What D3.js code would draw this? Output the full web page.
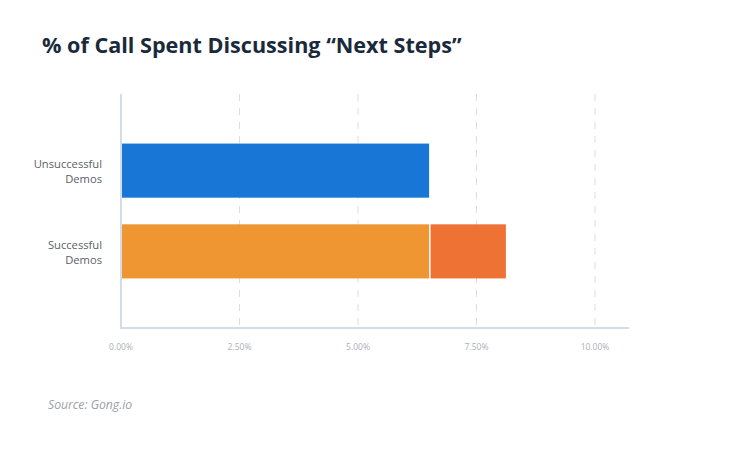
<!DOCTYPE html>
<html><head><meta charset="utf-8">
<script src="https://cdn.jsdelivr.net/npm/d3@7"></script>
<style>body{margin:0;background:#fff}svg{display:block}</style>
</head><body>
<script>
const categories = ["Unsuccessful\nDemos", "Successful\nDemos"];
const baseValues = [6.5, 6.5];
const extraValues = [0, 1.62];
const ticks = [0, 2.5, 5, 7.5, 10];
const tickLabels = ["0.00%", "2.50%", "5.00%", "7.50%", "10.00%"];

(function () {
const W = 730, H = 453;
const svg = d3.select("body").append("svg").attr("width", W).attr("height", H);
const font = "'Open Sans', sans-serif";

svg.append("text").attr("x", 42).attr("y", 53)
  .attr("font-family", font).attr("font-weight", 700).attr("font-size", 21.6)
  .attr("fill", "#1b2a3b").text("% of Call Spent Discussing \u201cNext Steps\u201d");

const x = d3.scaleLinear().domain([0, 10]).range([121, 595]);
const y = d3.scaleBand().domain(categories).range([130.25, 291.75]).paddingInner(0.33).paddingOuter(0.165);
const plotTop = 94, plotBottom = 328;

// grid
svg.append("g").selectAll("line").data(ticks.slice(1)).join("line")
  .attr("x1", d => x(d)).attr("x2", d => x(d)).attr("y1", plotTop).attr("y2", plotBottom)
  .attr("stroke", "#d9dee3").attr("stroke-width", 1).attr("stroke-dasharray", "7,7");

// bars
const g = svg.append("g");
g.selectAll("rect.base").data(categories).join("rect").attr("class", "base")
  .attr("x", x(0)).attr("y", d => y(d))
  .attr("width", (d, i) => x(baseValues[i]) - x(0)).attr("height", y.bandwidth())
  .attr("fill", (d, i) => i === 0 ? "#1776d6" : "#ef9532");
g.selectAll("rect.extra").data(categories.filter((d, i) => extraValues[i] > 0)).join("rect").attr("class", "extra")
  .attr("x", d => x(baseValues[categories.indexOf(d)]) + 1.5).attr("y", d => y(d))
  .attr("width", d => { const i = categories.indexOf(d); return x(baseValues[i] + extraValues[i]) - x(baseValues[i]) - 1.5; })
  .attr("height", y.bandwidth())
  .attr("fill", "#ee7234");

// axes lines
svg.append("line").attr("x1", 121).attr("x2", 121).attr("y1", plotTop).attr("y2", plotBottom + 1)
  .attr("stroke", "#d3dde6").attr("stroke-width", 2);
svg.append("line").attr("x1", 120).attr("x2", 629).attr("y1", plotBottom).attr("y2", plotBottom)
  .attr("stroke", "#d3dde6").attr("stroke-width", 2);

// tick labels
svg.append("g").selectAll("text").data(ticks).join("text")
  .attr("x", d => x(d)).attr("y", 350).attr("text-anchor", "middle")
  .attr("font-family", font).attr("font-size", 8.5).attr("fill", "#a9b0b7")
  .text((d, i) => tickLabels[i]);

// category labels
const cl = svg.append("g").selectAll("text").data(categories).join("text")
  .attr("x", 102).attr("y", d => y(d) + y.bandwidth() / 2)
  .attr("text-anchor", "end").attr("font-family", font).attr("font-size", 11.2).attr("fill", "#5a6168");
cl.each(function(d) {
  const lines = d.split("\n");
  d3.select(this).selectAll("tspan").data(lines).join("tspan")
    .attr("x", 102).attr("dy", (l, i) => i === 0 ? "-0.25em" : "1.35em").text(l => l);
});

svg.append("text").attr("x", 48).attr("y", 409)
  .attr("font-family", font).attr("font-style", "italic").attr("font-size", 12.2)
  .attr("fill", "#9aa1a8").text("Source: Gong.io");
})();
</script>
</body></html>
